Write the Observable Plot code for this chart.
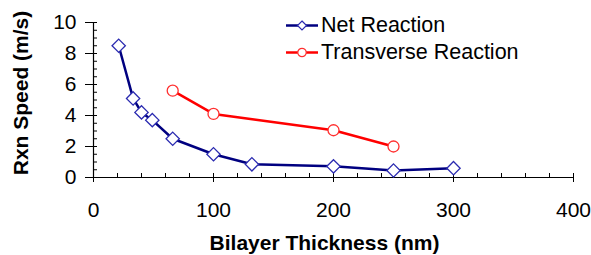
<!DOCTYPE html>
<html>
<head>
<meta charset="utf-8">
<script src="https://cdn.jsdelivr.net/npm/d3@7"></script>
<script src="https://cdn.jsdelivr.net/npm/@observablehq/plot@0.6"></script>
<style>
  html, body { margin: 0; padding: 0; background: #fff; }
  #wrap { position: relative; width: 591px; height: 255px; font-family: "Liberation Sans", Arial, sans-serif; }
  #legend { position: absolute; left: 286px; top: 12px; font-size: 21.5px; color: #000; }
  #legend .row { display: flex; align-items: center; height: 27px; }
  #legend svg { margin-right: 3px; }
</style>
</head>
<body>
<div id="wrap"></div>
<script>
// Data
const netThickness = [21, 33, 40, 49, 66, 100, 132, 200, 250, 300];
const netSpeed     = [8.5, 5.1, 4.2, 3.7, 2.5, 1.5, 0.85, 0.72, 0.45, 0.6];
const transThickness = [66, 100, 200, 250];
const transSpeed     = [5.6, 4.1, 3.05, 2.0];
const xMajorTicks = [0, 100, 200, 300, 400];
const xMinorTicks = d3.range(0, 401, 20);
const yMajorTicks = [0, 2, 4, 6, 8, 10];
const yMinorTicks = d3.range(0, 10.01, 0.5);
const seriesNames = ["Net Reaction", "Transverse Reaction"];
const xTitle = "Bilayer Thickness (nm)";
const yTitle = "Rxn Speed (m/s)";

const net = netThickness.map((x, i) => ({x, y: netSpeed[i]}));
const trans = transThickness.map((x, i) => ({x, y: transSpeed[i]}));

const netLine = "#000080", netMark = "#2a2ab0";
const trLine = "#ff0000", trMark = "#ff3030";
const noLabel = () => "";

const chart = Plot.plot({
  width: 591,
  height: 255,
  marginLeft: 93,
  marginRight: 18,
  marginTop: 22,
  marginBottom: 78,
  style: {fontFamily: "Liberation Sans, Arial, sans-serif", fontSize: "21px", color: "#000", background: "#fff"},
  x: {domain: [0, 400]},
  y: {domain: [0, 10]},
  marks: [
    // minor inward ticks
    Plot.axisX({ticks: xMinorTicks, tickSize: -4, tickFormat: noLabel, label: null, anchor: "bottom", stroke: "#000"}),
    Plot.axisY({ticks: yMinorTicks, tickSize: -4, tickFormat: noLabel, label: null, anchor: "left", stroke: "#000"}),
    // major ticks with labels
    Plot.axisX({ticks: xMajorTicks, tickSize: 5, tickPadding: 20, label: null, anchor: "bottom", stroke: "#000", fontSize: 21}),
    Plot.axisY({ticks: yMajorTicks, tickSize: 8, tickPadding: 9, label: null, anchor: "left", stroke: "#000", fontSize: 21}),
    Plot.ruleY([0], {stroke: "#000", strokeWidth: 1.2}),
    Plot.ruleX([0], {stroke: "#000", strokeWidth: 1.2}),
    Plot.line(net, {x: "x", y: "y", stroke: netLine, strokeWidth: 2.5}),
    Plot.line(trans, {x: "x", y: "y", stroke: trLine, strokeWidth: 2.5}),
    Plot.dot(net, {x: "x", y: "y", symbol: "diamond2", r: 6, stroke: netMark, fill: "#fff", strokeWidth: 1.3}),
    Plot.dot(trans, {x: "x", y: "y", symbol: "circle", r: 5.5, stroke: trMark, fill: "#fff", strokeWidth: 1.3}),
    Plot.text([xTitle], {frameAnchor: "bottom", textAnchor: "middle", dx: -9, dy: 66, lineAnchor: "middle", fontWeight: "bold", fontSize: 21}),
    Plot.text([yTitle], {frameAnchor: "left", textAnchor: "middle", rotate: -90, dx: -72, dy: -7, lineAnchor: "middle", fontWeight: "bold", fontSize: 21})
  ]
});

const wrap = document.getElementById("wrap");
wrap.appendChild(chart);

// Legend
const legend = document.createElement("div");
legend.id = "legend";
const specs = [
  {name: seriesNames[0], line: netLine, mark: netMark, shape: "diamond"},
  {name: seriesNames[1], line: trLine, mark: trMark, shape: "circle"}
];
for (const s of specs) {
  const row = document.createElement("div");
  row.className = "row";
  const sw = s.shape === "diamond"
    ? `<polygon points="16,5 20.5,9.5 16,14 11.5,9.5" fill="#fff" stroke="${s.mark}" stroke-width="1.2"/>`
    : `<circle cx="16" cy="9.5" r="4.2" fill="#fff" stroke="${s.mark}" stroke-width="1.2"/>`;
  row.innerHTML = `<svg width="32" height="19"><line x1="0" x2="32" y1="9.5" y2="9.5" stroke="${s.line}" stroke-width="2.5"/>${sw}</svg><span>${s.name}</span>`;
  legend.appendChild(row);
}
wrap.appendChild(legend);
</script>
</body>
</html>
